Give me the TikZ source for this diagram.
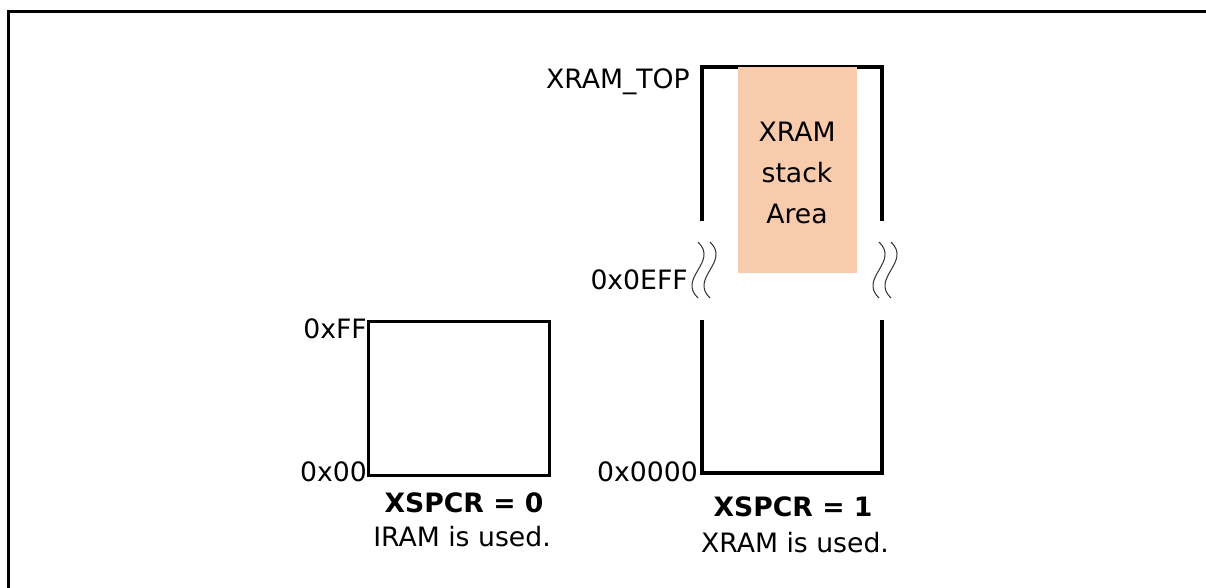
\documentclass[tikz,border=0pt]{standalone}
\usepackage{fontspec}
\setmainfont{DejaVu Sans}
\definecolor{stackfill}{HTML}{F8CBAD}
\definecolor{wavegray}{HTML}{303030}
\begin{document}
\begin{tikzpicture}[x=0.75pt,y=-0.75pt,
  frame/.style={line width=2.25pt,line cap=rect},
  memline/.style={line width=2.5pt},
  wave/.style={line width=0.75pt,draw=wavegray},
  lbl/.style={inner sep=0pt,font=\fontsize{20}{24}\selectfont},
  bold lbl/.style={inner sep=0pt,font=\fontsize{20}{24}\selectfont\bfseries}]
\useasboundingbox (0,0) rectangle (1206,587);
% outer frame (top and left sides visible)
\draw[frame] (8,600) -- (8,11) -- (1220,11);
% left memory (IRAM)
\node[draw,memline,minimum width=181*0.75pt,minimum height=154*0.75pt,inner sep=0pt,anchor=north west] (iram) at (367,320) {};
\node[lbl,anchor=base east] (ff) at (367,338) {0xFF};
\node[lbl,anchor=base east] (x00) at (367,481) {0x00};
\node[bold lbl,anchor=base] (xs0) at (464,512) {XSPCR = 0};
\node[lbl,anchor=base] (iu) at (462,546) {IRAM is used.};
% right memory (XRAM)
\coordinate (tl) at (702,67);
\coordinate (tr) at (882,67);
\coordinate (bl) at (702,473);
\coordinate (br) at (882,473);
\draw[memline] (702,221) -- (tl) -- (tr) -- (882,221);
\draw[memline] (702,320) -- (bl) -- (br) -- (882,320);
\node[fill=stackfill,minimum width=119*0.75pt,minimum height=206*0.75pt,inner sep=0pt,anchor=north west] (stack) at (738,67) {};
\node[lbl,align=center,font=\fontsize{20}{30.75}\selectfont] (stxt) at (797,173) {XRAM\\stack\\Area};
% break marks
\foreach \xx in {698,710,879,891}{
  \draw[wave] (\xx,242) .. controls (\xx+21,262) and (\xx-21,278) .. (\xx,298);
}
\node[lbl,anchor=base east] (top) at (690,88) {XRAM\_TOP};
\node[lbl,anchor=base east] (eff) at (688,289) {0x0EFF};
\node[lbl,anchor=base east] (x0000) at (698,481) {0x0000};
\node[bold lbl,anchor=base] (xs1) at (793,516) {XSPCR = 1};
\node[lbl,anchor=base] (xu) at (795,552) {XRAM is used.};
\end{tikzpicture}
\end{document}
